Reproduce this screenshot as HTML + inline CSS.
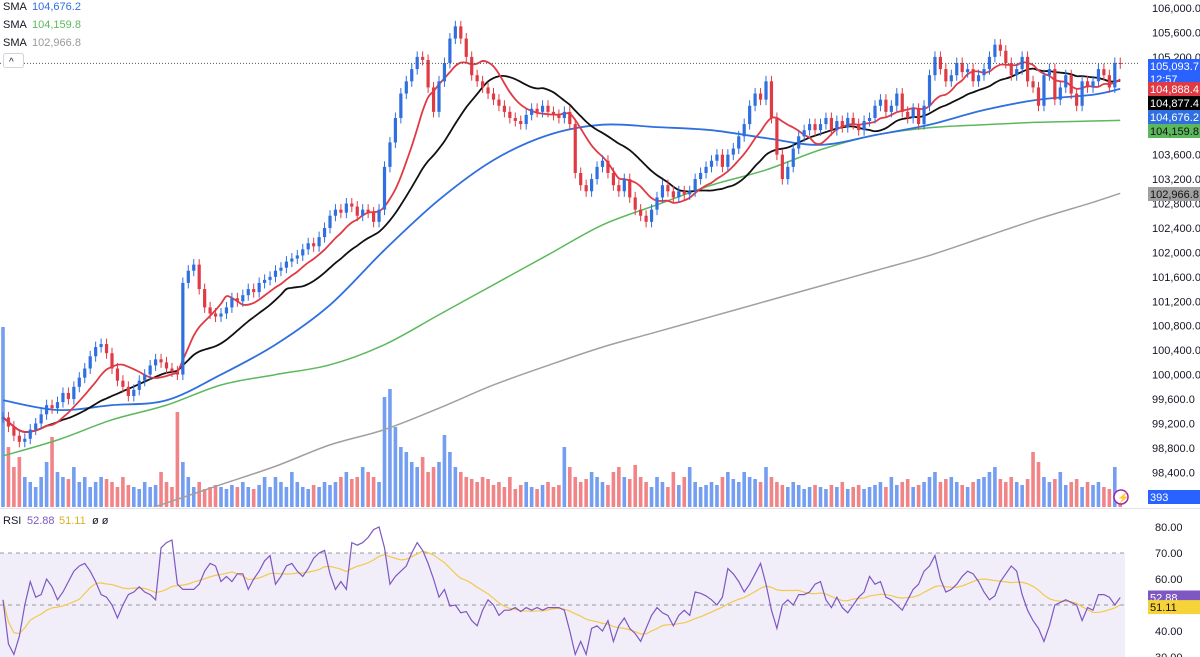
<!DOCTYPE html>
<html><head><meta charset="utf-8">
<style>
body{margin:0;background:#fff;font-family:"Liberation Sans",sans-serif;}
svg{display:block}
text{font-family:"Liberation Sans",sans-serif;}
</style></head>
<body>
<svg id="c" width="1200" height="657" xmlns="http://www.w3.org/2000/svg">
<defs><clipPath id="pp"><rect x="0" y="0" width="1140" height="507"/></clipPath>
<clipPath id="rp"><rect x="0" y="509" width="1130" height="148"/></clipPath></defs>
</svg>
<script>
const closes=[99300,99150,99000,98900,98950,99100,99200,99350,99500,99450,
99550,99700,99600,99800,99950,100100,100300,100450,100500,100350,
100100,99900,99800,99650,99750,99900,100000,100150,100250,100200,
100100,100050,100000,101500,101700,101800,101400,101100,101000,100950,
101000,101100,101250,101200,101300,101400,101350,101500,101550,101600,
101700,101750,101850,101900,101950,102050,102150,102100,102250,102400,
102600,102700,102650,102800,102750,102600,102700,102650,102500,102700,
103400,103800,104200,104600,104800,105000,105200,105150,104700,104300,
104800,105100,105500,105700,105500,105200,104900,104800,104700,104600,
104500,104400,104300,104200,104150,104100,104250,104350,104300,104400,
104300,104250,104200,104300,104100,103300,103100,103000,103200,103400,
103500,103300,103100,103000,103200,102900,102700,102600,102500,102700,
102900,103100,103000,102900,103000,102950,103000,103200,103300,103400,
103500,103600,103400,103600,103700,103900,104100,104400,104600,104500,
104800,104200,103600,103200,103400,103700,103900,104000,104100,104000,
104100,104200,104000,104150,104050,104200,104100,104000,104150,104200,
104400,104500,104300,104400,104600,104300,104200,104350,104100,104400,
104900,105200,105000,104800,104900,105100,104950,105000,104800,104900,
105000,105200,105400,105300,105100,104900,105000,105200,104800,104700,
104400,104900,105000,104500,104700,104900,104600,104400,104800,104700,
104800,105000,104900,104700,105100,105094];
const volumes=[180,60,40,50,30,25,20,30,45,70,35,30,28,40,25,30,20,25,30,28,
25,20,30,22,20,18,25,20,22,35,25,20,95,45,30,20,25,18,20,22,
20,18,22,20,25,20,18,22,30,20,30,25,20,35,25,20,18,22,20,25,
22,25,30,35,28,30,40,35,30,25,110,118,80,60,55,45,40,50,35,40,
45,72,55,40,35,30,28,25,30,28,22,25,20,30,18,22,25,20,18,22,
25,20,22,60,40,30,25,28,35,30,25,22,35,40,30,28,42,30,25,20,
30,25,20,35,22,30,40,25,20,22,25,22,30,35,28,25,35,30,28,25,
40,30,25,22,20,25,22,18,20,22,20,18,22,20,25,18,20,22,18,20,
22,25,20,30,22,25,28,20,22,25,30,35,25,28,30,25,22,20,25,28,
30,35,40,28,25,30,25,22,28,55,45,30,25,28,35,22,25,28,20,25,22,25,20,18,40,10];
const rsiVals=[52,35,31,38,50,59,53,54,60,57,52,55,59,63,65,66,63,59,54,53,
50,45,50,54,55,57,55,54,52,72,74,75,58,56,56,56,58,63,66,65,
59,61,59,62,62,56,60,63,67,69,58,61,65,66,63,61,64,68,70,71,
62,56,59,56,74,73,74,76,79,80,72,58,61,63,65,70,74,71,66,60,
53,56,49.6,50,47,47.5,44,42,48,52,50,46,48,48,49,47.5,49,48,49,48,
49,49,49,48,40,31,36,31,41,42,40,44,36,42,45,41,39,36,41,46,
49,47,46,42,46,48,46,55,54.5,53.5,52,50,53,64,62,59,55,58,62,66,
58,48,41,50,52,50,54,54,55,58,59,52,49,53,49,47,50,53,55,61,
58,59,53,52,50,48,52,56,58,63,65,69,60,55,56,58,61,63,62,59,
55,52,53.5,59,62,65,63,54,48,44,41,36,42,50,51,52,51,50,44,49,
48,54,54,53,50,52.88];
const smaIdx=[0,10,20,30,40,50,60,70,80,90,100,110,120,130,140,150,160,170,180,190,200,205];
const smaBlue=[99580,99420,99500,99580,100000,100490,101140,102040,102860,103510,103920,104090,104050,104000,103870,103760,103920,104090,104330,104500,104580,104676];
const smaGreen=[98670,98930,99260,99500,99830,100000,100160,100490,100980,101470,101960,102450,102780,103100,103350,103680,103920,104040,104090,104130,104150,104160];
const smaGrey=[97000,97300,97600,97900,98200,98500,98850,99100,99450,99830,100150,100450,100700,100950,101200,101450,101700,101950,102250,102550,102820,102967];
const priceTicks=[106000,105600,105200,104800,104400,104000,103600,103200,102800,102400,102000,101600,101200,100800,100400,100000,99600,99200,98800,98400,98000];
const rsiTicks=[80,70,60,50,40,30];

const NS="http://www.w3.org/2000/svg";
const svg=document.getElementById('c');
function el(t,a,p){const e=document.createElementNS(NS,t);for(const k in a)e.setAttribute(k,a[k]);(p||svg).appendChild(e);return e;}
const X=i=>3+i*5.45;
const Y=p=>8+(106000-p)*0.0611;
const RY=v=>553+(70-v)*2.6;
const VY=v=>507-v;
const pg=el('g',{'clip-path':'url(#pp)'});


const rg=el('g',{'clip-path':'url(#rp)'});



const band=el('rect',{x:0,y:RY(70),width:1125,height:657-RY(70),fill:'#7e57c2','fill-opacity':0.1},rg);


[70,50].forEach(v=>{const l=el('line',{x1:0,x2:1125,y1:RY(v),y2:RY(v),stroke:'#9598a1','stroke-dasharray':'4 4','stroke-width':1},rg);

});
const sep=el('line',{x1:0,x2:1200,y1:508.5,y2:508.5,stroke:'#e0e3eb'});



closes.forEach((c,i)=>{const o=i?closes[i-1]:c;const up=c>=o;
const r=el('rect',{x:X(i)-1.8,y:VY(volumes[i]),width:3.6,height:volumes[i],fill:up?'#5b8def':'#ef6f72','fill-opacity':0.85},pg);

});

function smooth(pts){let d='M'+pts[0][0]+','+pts[0][1];
for(let k=0;k<pts.length-1;k++){const p0=pts[Math.max(0,k-1)],p1=pts[k],p2=pts[k+1],p3=pts[Math.min(pts.length-1,k+2)];
const c1=[p1[0]+(p2[0]-p0[0])/6,p1[1]+(p2[1]-p0[1])/6],c2=[p2[0]-(p3[0]-p1[0])/6,p2[1]-(p3[1]-p1[1])/6];
d+=' C'+c1+' '+c2+' '+p2;}return d;}
function sampled(vals,color,name,w){const p=el('path',{d:smooth(vals.map((v,k)=>[X(smaIdx[k]),Y(v)])),fill:'none',stroke:color,'stroke-width':w},pg);

}
function computed(n,color,name,w){const pts=closes.map((c,i)=>{const s=closes.slice(Math.max(0,i-n+1),i+1);return [X(i),Y(s.reduce((a,b)=>a+b,0)/s.length)];});
const p=el('path',{d:smooth(pts),fill:'none',stroke:color,'stroke-width':w},pg);

}
sampled(smaGrey,'#a0a0a0','sma-200-line',1.5);
sampled(smaGreen,'#5cb85c','sma-100-line',1.5);
sampled(smaBlue,'#2f6fe0','sma-50-line',1.8);
computed(20,'#111','sma-20-line',1.8);
computed(9,'#e03a45','sma-9-line',1.8);

closes.forEach((c,i)=>{const o=i?closes[i-1]:c;const up=c>=o;const col=up?'#2f6fe0':'#e03a45';
const hi=Math.max(o,c)+90,lo=Math.min(o,c)-90;
const w=el('line',{x1:X(i),x2:X(i),y1:Y(hi),y2:Y(lo),stroke:col,'stroke-width':1},pg);


const b=el('rect',{x:X(i)-1.6,y:Y(Math.max(o,c)),width:3.2,height:Math.max(1,Math.abs(Y(o)-Y(c))),fill:col},pg);

});

const cur=closes[closes.length-1];
const cl=el('line',{x1:0,x2:1140,y1:Y(cur),y2:Y(cur),stroke:'#555','stroke-dasharray':'1 2','stroke-width':1});



const rsiMa=rsiVals.map((v,i)=>{const s=rsiVals.slice(Math.max(0,i-13),i+1);return s.reduce((a,b)=>a+b,0)/s.length;});
function rl(arr,col,name){const pts=arr.map((v,i)=>X(i)+','+RY(v)).join(' ');
const p=el('polyline',{points:pts,fill:'none',stroke:col,'stroke-width':1.2},rg);

}
rl(rsiMa,'#f2c94c','rsi-ma-line');
rl(rsiVals,'#7e57c2','rsi-line');

priceTicks.forEach(p=>{const t=el('text',{x:1152,y:Y(p)+4,'font-size':11,fill:'#131722'});t.textContent=p.toLocaleString('en-US',{minimumFractionDigits:1});

});
rsiTicks.forEach(v=>{const t=el('text',{x:1155,y:RY(v)+4,'font-size':11,fill:'#131722'});t.textContent=v.toFixed(2);

});

function badge(y,h,bg,fg,txt,name){const g=el('g',{});
el('rect',{x:1148,y:y,width:52,height:h,fill:bg},g);
txt.split('|').forEach((s,k)=>{const t=el('text',{x:1150,y:y+11+k*13,'font-size':11,fill:fg},g);t.textContent=s;});}
badge(59,26,'#2962ff','#fff','105,093.7|12:57','last-price-badge');
badge(82,14,'#e03a45','#fff','104,888.4','sma9-badge');
badge(96,14,'#000','#fff','104,877.4','sma20-badge');
badge(110,14,'#2f6fe0','#fff','104,676.2','sma50-badge');
badge(124,14,'#5cb85c','#111','104,159.8','sma100-badge');
badge(187,14,'#a0a0a0','#111','102,966.8','sma200-badge');
badge(490,14,'#2962ff','#fff','393','volume-badge');
badge(RY(52.88)-7,14,'#7e57c2','#fff','52.88','rsi-badge');
badge(RY(51.11)-2,14,'#f7d33a','#111','51.11','rsi-ma-badge');

const ic=el('circle',{cx:1121,cy:497,r:7,fill:'#fff',stroke:'#9c27b0','stroke-width':1.5});


const it=el('text',{x:1117,y:501,'font-size':10,fill:'#9c27b0'});it.textContent='⚡';

[['104,676.2','#2f6fe0'],['104,159.8','#5cb85c'],['102,966.8','#999']].forEach((d,k)=>{
const g=el('g',{});
const a=el('text',{x:3,y:10+k*18,'font-size':11,fill:'#131722'},g);a.textContent='SMA';
const b=el('text',{x:32,y:10+k*18,'font-size':11,fill:d[1]},g);b.textContent=d[0];});
const cb=el('rect',{x:3.5,y:53.5,width:20,height:14,rx:2,fill:'#fff',stroke:'#d1d4dc'});


const ct=el('text',{x:9,y:65,'font-size':10,fill:'#131722'});ct.textContent='^';
const rl1=el('text',{x:3,y:524,'font-size':11,fill:'#131722'});rl1.textContent='RSI';


const rv=el('text',{x:27,y:524,'font-size':11,fill:'#7e57c2'});rv.textContent='52.88';
const rv2=el('text',{x:59,y:524,'font-size':11,fill:'#e0b020'});rv2.textContent='51.11';
const rv3=el('text',{x:92,y:524,'font-size':11,fill:'#131722'});rv3.textContent='ø  ø';
</script>
</body></html>
